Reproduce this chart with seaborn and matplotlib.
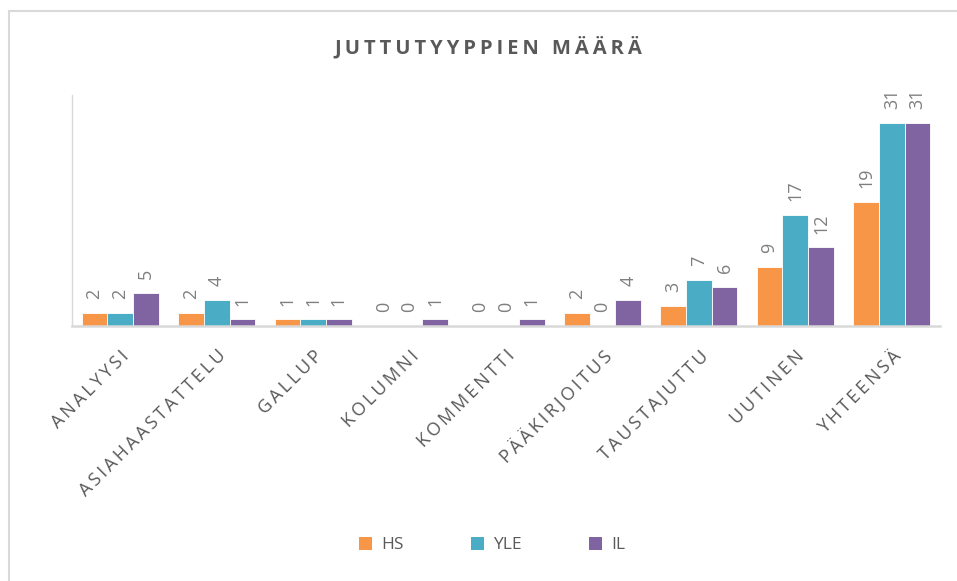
import matplotlib
matplotlib.use("Agg")
import matplotlib.pyplot as plt
import seaborn as sns
import pandas as pd
from matplotlib.patches import Rectangle, Patch

categories = ["ANALYYSI", "ASIAHAASTATTELU", "GALLUP", "KOLUMNI", "KOMMENTTI",
              "PÄÄKIRJOITUS", "TAUSTAJUTTU", "UUTINEN", "YHTEENSÄ"]
hs = [2, 2, 1, 0, 0, 2, 3, 9, 19]
yle = [2, 4, 1, 0, 0, 0, 7, 17, 31]
il = [5, 1, 1, 1, 1, 4, 6, 12, 31]
series = ["HS", "YLE", "IL"]
colors = ["#F79646", "#4BACC6", "#8064A2"]
title = "JUTTUTYYPPIEN MÄÄRÄ"

rows = []
for name, vals in zip(series, [hs, yle, il]):
    for c, v in zip(categories, vals):
        rows.append({"cat": c, "src": name, "val": v})
df = pd.DataFrame(rows)

sns.set_theme(style="white")
plt.rcParams["font.family"] = ["Open Sans", "DejaVu Sans"]

def spaced(s, sep="\u2009"):
    return sep.join(list(s))

fig = plt.figure(figsize=(9.57, 5.81), dpi=100)
ax = fig.add_axes([72 / 957, 1 - 326 / 581, (940 - 72) / 957, (326 - 95) / 581])

sns.barplot(data=df, x="cat", y="val", hue="src", order=categories,
            hue_order=series, palette=colors, width=0.8, ax=ax,
            saturation=1, legend=False, edgecolor="white", linewidth=0.6)

ax.set_ylim(0, 35.3)
ax.set_xlim(-0.5, len(categories) - 0.5)
ax.set_xlabel("")
ax.set_ylabel("")
ax.set_yticks([])
ax.tick_params(axis="x", length=0, pad=15)
ax.set_xticks(range(len(categories)))
ax.set_xticklabels([spaced(c) for c in categories], rotation=45, ha="right",
                   rotation_mode="anchor", fontsize=13, color="#595959")

for side in ["top", "right"]:
    ax.spines[side].set_visible(False)
ax.spines["left"].set_color("#D9D9D9")
ax.spines["left"].set_linewidth(1.0)
ax.spines["bottom"].set_color("#D9D9D9")
ax.spines["bottom"].set_linewidth(1.8)

for cont in ax.containers:
    for bar in cont:
        h = bar.get_height()
        ax.annotate(f"{int(h)}", (bar.get_x() + bar.get_width() / 2, h),
                    xytext=(0, 10), textcoords="offset points",
                    ha="center", va="bottom", rotation=90,
                    fontsize=13, color="#7F7F7F")

fig.text(488 / 957, 1 - 47 / 581, spaced(title, "\u2009"), ha="center", va="center",
         fontsize=14.5, fontweight="bold", color="#595959")

handles = [Patch(facecolor=c, edgecolor="none") for c in colors]
fig.legend(handles, series, loc="center", bbox_to_anchor=(492 / 957, 1 - 545 / 581),
           ncol=3, frameon=False, fontsize=12.5, handlelength=0.75, handleheight=0.75,
           columnspacing=3.9, handletextpad=0.5, labelcolor="#595959")

fig.patches.append(Rectangle((9 / 957, -0.1), 1.2, 1 - 11 / 581 + 0.1,
                             transform=fig.transFigure, fill=False,
                             edgecolor="#D9D9D9", linewidth=1.5, zorder=0))

fig.savefig("out.png", dpi=100)
